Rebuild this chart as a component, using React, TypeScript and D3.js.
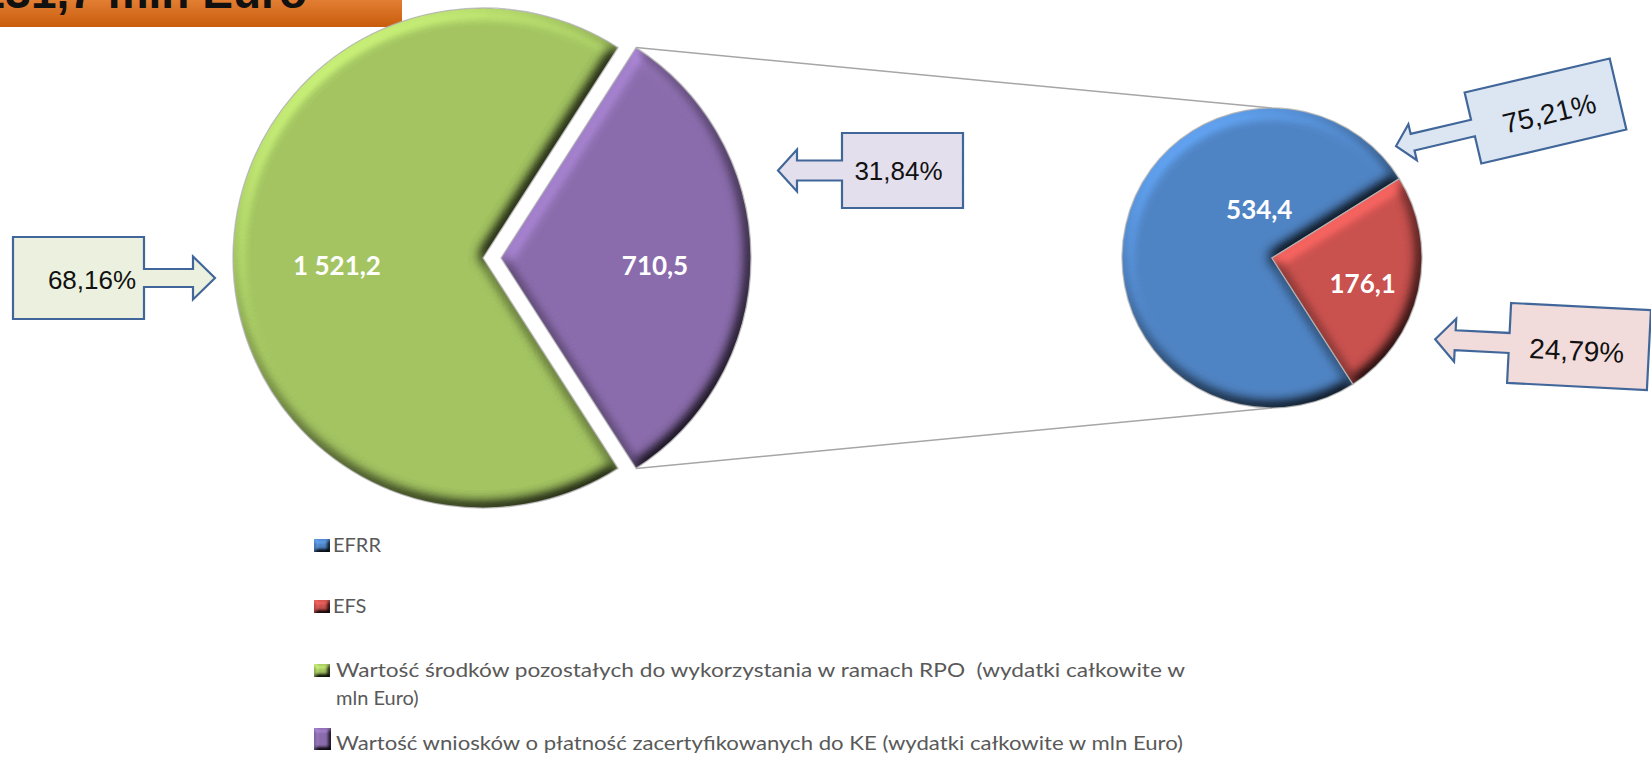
import React from "react";
import * as d3 from "d3";

// ---- data ----
const mainLabels = [
  "Wartość środków pozostałych do wykorzystania w ramach RPO  (wydatki całkowite w mln Euro)",
  "Wartość wniosków o płatność zacertyfikowanych do KE (wydatki całkowite w mln Euro)",
];
const mainValues = [1521.2, 710.5];
const mainValueText = ["1 521,2", "710,5"];
const mainPercents = ["68,16%", "31,84%"];

const subLabels = ["EFRR", "EFS"];
const subValues = [534.4, 176.1];
const subValueText = ["534,4", "176,1"];
const subPercents = ["75,21%", "24,79%"];

const titleText = "2 231,7 mln Euro";

// ---- styles ----
const W = 1651;
const H = 758;
const mainColors = ["#a3c461", "#8a6cac"];
const subColors = ["#4f84c4", "#c9514e"];
const calloutFills = { main: ["#ebf1de", "#e4dfec"], sub: ["#dce6f2", "#f2dcdb"] };
const calloutStroke = "#41679a";

function calloutPath(w: number, h: number, shaft: number, sh: number, head: number, hh: number) {
  const l = -w / 2;
  return [
    `M${l},${-h / 2}`,
    `H${w / 2}`,
    `V${h / 2}`,
    `H${l}`,
    `V${sh}`,
    `H${l - shaft}`,
    `V${hh}`,
    `L${l - shaft - head},0`,
    `L${l - shaft},${-hh}`,
    `V${-sh}`,
    `H${l}`,
    "Z",
  ].join(" ");
}

export default function App() {
  const mainCx = 483, mainCy = 258, mainR = 250, explode = 18;
  const subCx = 1272, subCy = 258, subR = 150;

  const mainSum = d3.sum(mainValues);
  const purpleAngle = (2 * Math.PI * mainValues[1]) / mainSum;
  const start = Math.PI / 2 + purpleAngle / 2;

  const mainArcs = d3.pie<number>().sort(null).startAngle(start).endAngle(start + 2 * Math.PI)(mainValues);
  const subArcs = d3.pie<number>().sort(null).startAngle(start).endAngle(start + 2 * Math.PI)(subValues);

  const mainArc = d3.arc<any>().innerRadius(0).outerRadius(mainR);
  const subArc = d3.arc<any>().innerRadius(0).outerRadius(subR);

  const mainCenters = mainArcs.map((a, i) => {
    const mid = (a.startAngle + a.endAngle) / 2;
    const e = i === 1 ? explode : 0;
    return [mainCx + Math.sin(mid) * e, mainCy - Math.cos(mid) * e];
  });

  const purple = mainArcs[1];
  const pc = mainCenters[1];
  const pTop = [pc[0] + mainR * Math.sin(purple.startAngle), pc[1] - mainR * Math.cos(purple.startAngle)];
  const pBot = [pc[0] + mainR * Math.sin(purple.endAngle), pc[1] - mainR * Math.cos(purple.endAngle)];

  const polar = (cx: number, cy: number, r: number, ang: number) => [cx + r * Math.sin(ang), cy - r * Math.cos(ang)];

  const mainLabelPos = mainArcs.map((a, i) => {
    const mid = (a.startAngle + a.endAngle) / 2;
    const p = polar(mainCenters[i][0], mainCenters[i][1], mainR * 0.6, mid);
    return [p[0] + 4, p[1] + 8];
  });
  const subLabelPos = [
    [subCx - 0.085 * subR, subCy - 0.32 * subR],
    (() => {
      const a = subArcs[1];
      const p = polar(subCx, subCy, subR * 0.62, (a.startAngle + a.endAngle) / 2);
      return [p[0], p[1] + 5];
    })(),
  ];

  const callouts = [
    { text: mainPercents[0], fill: calloutFills.main[0], cx: 78.5, cy: 278, w: 131, h: 82, shaft: 49, sh: 9, head: 22, hh: 21.5, rot: 0, flip: true, tx: 13.5, ty: 11, fs: 26 },
    { text: mainPercents[1], fill: calloutFills.main[1], cx: 902.5, cy: 170.5, w: 121, h: 75, shaft: 45, sh: 10, head: 19, hh: 21, rot: 0, flip: false, tx: -4, ty: 9.5, fs: 26 },
    { text: subPercents[0], fill: calloutFills.sub[0], cx: 1545.5, cy: 111, w: 149, h: 73, shaft: 62, sh: 8.5, head: 17, hh: 18.5, rot: -13.2, flip: false, tx: 3, ty: 13, fs: 28 },
    { text: subPercents[1], fill: calloutFills.sub[1], cx: 1579, cy: 346.5, w: 140, h: 80, shaft: 54, sh: 10, head: 20, hh: 21.5, rot: 2.9, flip: false, tx: -2, ty: 14, fs: 28 },
  ];

  const legendItems = [
    { lines: [subLabels[0]], color: subColors[0], base: 552, mw: 16, mh: 13, tx: 333 },
    { lines: [subLabels[1]], color: subColors[1], base: 613, mw: 16, mh: 13, tx: 333 },
    { lines: ["Wartość środków pozostałych do wykorzystania w ramach RPO  (wydatki całkowite w", "mln Euro)"], color: mainColors[0], base: 677, mw: 16, mh: 13, len: 849, tx: 336 },
    { lines: [mainLabels[1]], color: mainColors[1], base: 750, mw: 17, mh: 22, len: 847, tx: 336 },
  ];

  const slicePaint = (d: string, fill: string, key: string, filt = "url(#bevel)") => (
    <g key={key}>
      <path d={d} fill={fill} filter={filt} />
      <path d={d} fill="none" stroke="#b5b5b5" strokeWidth={1.3} strokeOpacity={0.85} />
    </g>
  );

  return (
    <svg width={W} height={H} style={{ position: "absolute", left: 0, top: 0, background: "#fff" }}
      fontFamily="'Liberation Sans', Arial, sans-serif">
      <defs>
        <linearGradient id="titleGrad" x1="0" y1="0" x2="0" y2="1">
          <stop offset="0" stopColor="#e27e33" />
          <stop offset="1" stopColor="#c95c0c" />
        </linearGradient>
        <filter id="bevel" x="-10%" y="-10%" width="120%" height="120%" colorInterpolationFilters="sRGB">
          <feGaussianBlur in="SourceAlpha" stdDeviation="7" result="blur" />
          <feDiffuseLighting in="blur" surfaceScale="8" diffuseConstant="1" lightingColor="#ffffff" result="light">
            <feDistantLight azimuth="235" elevation="55" />
          </feDiffuseLighting>
          <feComposite in="SourceGraphic" in2="light" operator="arithmetic" k1="1.22" k2="0" k3="0" k4="0" result="lit" />
          <feComposite in="lit" in2="SourceAlpha" operator="in" />
        </filter>
        <filter id="bevelSmall" x="-20%" y="-20%" width="140%" height="140%" colorInterpolationFilters="sRGB">
          <feGaussianBlur in="SourceAlpha" stdDeviation="2" result="blur" />
          <feDiffuseLighting in="blur" surfaceScale="4" diffuseConstant="1" lightingColor="#ffffff" result="light">
            <feDistantLight azimuth="235" elevation="55" />
          </feDiffuseLighting>
          <feComposite in="SourceGraphic" in2="light" operator="arithmetic" k1="1.22" k2="0" k3="0" k4="0" result="lit" />
          <feComposite in="lit" in2="SourceAlpha" operator="in" />
        </filter>
      </defs>

      {/* title box */}
      <rect x={0} y={0} width={402} height={27} fill="url(#titleGrad)" />
      <text x={307} y={8} textAnchor="end" fontSize={46} fontWeight="bold" fill="#111">{titleText}</text>

      {/* connector lines */}
      <line x1={pTop[0]} y1={pTop[1]} x2={subCx} y2={subCy - subR} stroke="#a6a6a6" strokeWidth={1.5} />
      <line x1={pBot[0]} y1={pBot[1]} x2={subCx} y2={subCy + subR} stroke="#a6a6a6" strokeWidth={1.5} />

      {/* main pie */}
      {mainArcs.map((a, i) => (
        <g key={"m" + i} transform={`translate(${mainCenters[i][0]},${mainCenters[i][1]})`}>
          {slicePaint(mainArc(a) as string, mainColors[i], "ms" + i)}
        </g>
      ))}
      {mainArcs.map((a, i) => (
        <text key={"ml" + i} x={mainLabelPos[i][0]} y={mainLabelPos[i][1]} dy="0.35em" textAnchor="middle"
          fontFamily="Lato, 'Open Sans', sans-serif" fontWeight="bold" fontSize={26} fill="#fff">
          {mainValueText[i]}
        </text>
      ))}

      {/* sub pie */}
      <g transform={`translate(${subCx},${subCy})`}>
        {subArcs.map((a, i) => slicePaint(subArc(a) as string, subColors[i], "ss" + i))}
      </g>
      {subArcs.map((a, i) => (
        <text key={"sl" + i} x={subLabelPos[i][0]} y={subLabelPos[i][1]} dy="0.35em" textAnchor="middle"
          fontFamily="Lato, 'Open Sans', sans-serif" fontWeight="bold" fontSize={26} fill="#fff">
          {subValueText[i]}
        </text>
      ))}

      {/* callouts */}
      {callouts.map((c, i) => (
        <g key={"c" + i} transform={`translate(${c.cx},${c.cy}) rotate(${c.rot})`}>
          <path d={calloutPath(c.w, c.h, c.shaft, c.sh, c.head, c.hh)} transform={c.flip ? "scale(-1,1)" : undefined}
            fill={c.fill} stroke={calloutStroke} strokeWidth={2.2} strokeLinejoin="miter" />
          <text x={c.tx} y={c.ty} textAnchor="middle" fontSize={c.fs} fill="#111">{c.text}</text>
        </g>
      ))}

      {/* legend */}
      {legendItems.map((it, i) => (
        <g key={"lg" + i}>
          <rect x={314} y={it.base - it.mh} width={it.mw} height={it.mh} fill={it.color} filter="url(#bevelSmall)" />
          {it.lines.map((ln, j) => (
            <text key={j} x={it.tx} y={it.base + j * 28}
              fontFamily="Lato, 'Open Sans', sans-serif" fontSize={20} fill="#595959"
              style={{ whiteSpace: "pre" }}
              textLength={j === 0 && it.len ? it.len : undefined}
              lengthAdjust={j === 0 && it.len ? "spacingAndGlyphs" : undefined}>
              {ln}
            </text>
          ))}
        </g>
      ))}
    </svg>
  );
}
